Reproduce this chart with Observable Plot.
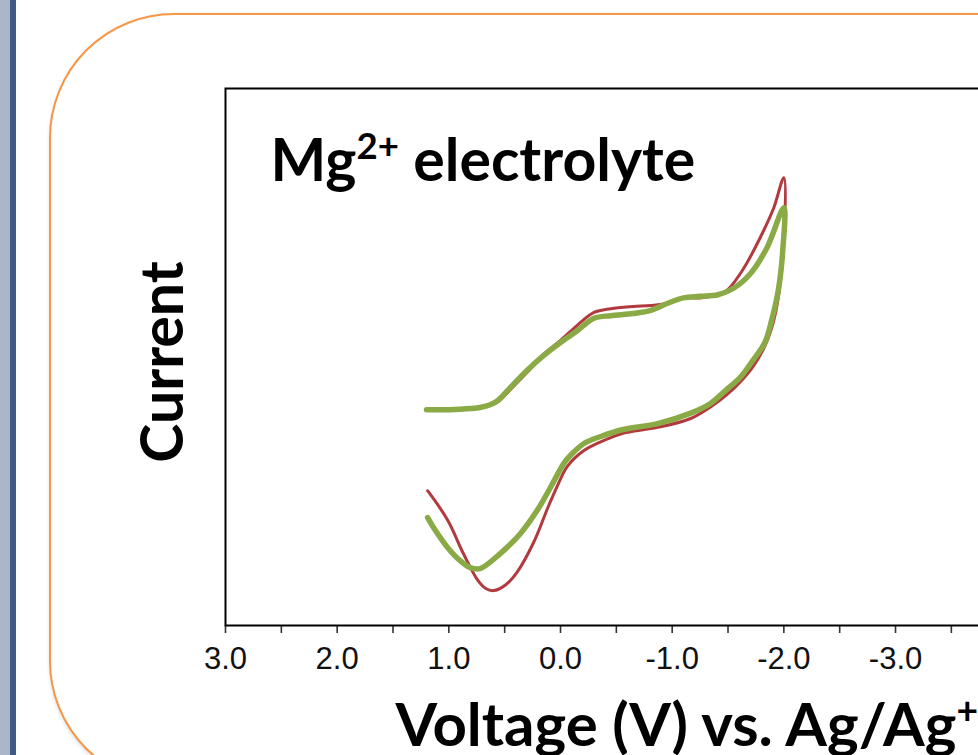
<!DOCTYPE html>
<html>
<head>
<meta charset="utf-8">
<script src="https://cdn.jsdelivr.net/npm/d3@7"></script>
<script src="https://cdn.jsdelivr.net/npm/@observablehq/plot@0.6"></script>
<style>
html, body { margin: 0; padding: 0; width: 978px; height: 755px; overflow: hidden; background: #fff; }
#strip1 { position: absolute; left: 0; top: 0; width: 10px; height: 755px; background: #abb6c8; }
#strip2 { position: absolute; left: 10px; top: 0; width: 6px; height: 755px; background: #3d5c8a; }
#card { position: absolute; left: 49px; top: 13px; width: 1100px; height: 773px; border: 2px solid #f79646;
        border-radius: 125px; box-shadow: 1px 2px 4px rgba(0,0,0,0.18); box-sizing: border-box; background: #fff; }
#chart { position: absolute; left: 0; top: 0; width: 1100px; height: 755px; }
#chart svg [aria-label="x-axis tick"] path, #chart svg .tick line { stroke-width: 1.6px; stroke: #333; }
#chart svg [aria-label="x-axis tick label"] text, #chart svg .tick text { font-size: 31px; }
</style>
</head>
<body>
<div id="strip1"></div>
<div id="strip2"></div>
<div id="card"></div>
<div id="chart"></div>
<script>
// ---- data (voltage in V vs Ag/Ag+, current in arbitrary units) ----
const xTickValues = [3, 2.5, 2, 1.5, 1, 0.5, 0, -0.5, -1, -1.5, -2, -2.5, -3, -3.5];

// red trace: forward scan (1.2 V -> -2.0 V) then reverse scan (-2.0 V -> 1.2 V)
const redVoltage = [1.2, 0.99, 0.81, 0.72, 0.63, 0.56, 0.45, 0.30, 0.15, 0.0, -0.15, -0.30, -0.45, -0.65, -0.81, -0.96, -1.10, -1.25, -1.41, -1.50, -1.64, -1.79, -1.91, -2.0,
  -1.998, -1.96, -1.91, -1.84, -1.73, -1.62, -1.49, -1.35, -1.16, -0.87, -0.56, -0.45, -0.21, -0.06, 0.03, 0.12, 0.24, 0.39, 0.49, 0.60, 0.67, 0.74, 0.87, 1.01, 1.19];
const redCurrent = [40.2, 40.2, 40.4, 40.6, 41.1, 41.7, 43.9, 47.1, 50.5, 53.1, 55.9, 58.3, 59.0, 59.4, 59.6, 60.0, 61.0, 61.0, 61.6, 62.6, 66.5, 72.3, 77.8, 83.4,
  71.0, 62.4, 56.8, 52.5, 48.4, 45.6, 43.0, 40.8, 38.5, 36.9, 35.8, 35.0, 32.6, 29.6, 25.9, 21.6, 15.5, 9.9, 7.6, 6.5, 6.9, 8.4, 13.4, 19.6, 25.1];

// green trace: forward scan then reverse scan
const greenVoltage = [1.2, 0.99, 0.81, 0.72, 0.63, 0.56, 0.45, 0.30, 0.15, 0.0, -0.15, -0.30, -0.45, -0.65, -0.81, -0.96, -1.10, -1.25, -1.41, -1.55, -1.70, -1.85, -2.0,
  -1.99, -1.95, -1.89, -1.83, -1.71, -1.61, -1.48, -1.34, -1.16, -0.87, -0.56, -0.36, -0.21, -0.09, -0.03, 0.09, 0.21, 0.36, 0.54, 0.72, 0.81, 0.90, 1.01, 1.12, 1.19];
const greenCurrent = [40.2, 40.2, 40.4, 40.6, 41.1, 41.9, 44.3, 47.5, 50.3, 52.7, 54.9, 57.2, 57.7, 58.1, 58.7, 60.0, 61.0, 61.3, 61.6, 62.8, 65.5, 70.4, 77.8,
  69.8, 62.4, 56.8, 52.7, 49.0, 46.2, 43.8, 41.3, 39.5, 37.6, 36.5, 35.2, 33.9, 31.7, 30.2, 25.7, 21.4, 17.1, 13.4, 10.6, 10.8, 12.1, 14.5, 17.7, 20.1];

const titleText = "Mg2+ electrolyte";
const xLabelText = "Voltage (V) vs. Ag/Ag+";
const yLabelText = "Current";

// ---- build tables ----
const redRows = redVoltage.map((v, k) => ({v, c: redCurrent[k]}));
const greenRows = greenVoltage.map((v, k) => ({v, c: greenCurrent[k]}));

const pxPerVolt = 111.67;
const W = 1100;
const ML = 225;
const titleSize = 59, xLabelSize = 60, yLabelSize = 59;
const chart = Plot.plot({
  width: W, height: 755,
  marginLeft: ML, marginRight: W - ML - 7 * pxPerVolt, marginTop: 88, marginBottom: 130,
  style: {background: "transparent", fontFamily: "'Liberation Sans', Arial, sans-serif", fontSize: "31px", color: "#111", overflow: "visible"},
  x: {domain: [3, -4], ticks: xTickValues, tickFormat: d => Number.isInteger(d) ? d.toFixed(1) : "", tickSize: 8, tickPadding: 13, label: null},
  y: {domain: [0, 100], axis: null},
  marks: [
    Plot.frame({stroke: "#000", strokeWidth: 2}),
    Plot.line(redRows, {x: "v", y: "c", stroke: "#b23a3e", strokeWidth: 3, curve: "catmull-rom"}),
    Plot.line(greenRows, {x: "v", y: "c", stroke: "#8aaa46", strokeWidth: 5.5, curve: "catmull-rom"}),
    Plot.text([titleText], {frameAnchor: "top-left", dx: 45, dy: 92, text: d => d, textAnchor: "start", lineAnchor: "bottom",
      fontFamily: "Lato", fontWeight: "bold", fontSize: titleSize, fill: "#000"}),
    Plot.text([xLabelText], {frameAnchor: "bottom-left", dx: 170, dy: 120, text: d => d, textAnchor: "start", lineAnchor: "bottom",
      fontFamily: "Lato", fontWeight: "bold", fontSize: xLabelSize, fill: "#000"}),
    Plot.text([yLabelText], {frameAnchor: "left", dx: -43, dy: 5, rotate: -90, text: d => d, textAnchor: "middle", lineAnchor: "bottom",
      fontFamily: "Lato", fontWeight: "bold", fontSize: yLabelSize, fill: "#000"})
  ]
});

// superscripts
const NS = "http://www.w3.org/2000/svg";
function supify(svg, full, parts, size) {
  for (const t of svg.querySelectorAll("text")) {
    if (t.textContent === full) {
      t.textContent = "";
      const a = document.createElementNS(NS, "tspan"); a.textContent = parts[0]; t.appendChild(a);
      const b = document.createElementNS(NS, "tspan"); b.textContent = parts[1];
      b.setAttribute("font-size", (size * 0.62) + "px"); b.setAttribute("dy", (-size * 0.36) + "px"); t.appendChild(b);
      if (parts[2]) {
        const c = document.createElementNS(NS, "tspan"); c.textContent = parts[2];
        c.setAttribute("dy", (size * 0.36) + "px"); t.appendChild(c);
      }
    }
  }
}
supify(chart, titleText, ["Mg", "2+", " electrolyte"], titleSize);
supify(chart, xLabelText, ["Voltage (V) vs. Ag/Ag", "+", ""], xLabelSize);

document.getElementById("chart").appendChild(chart);
</script>
</body>
</html>
